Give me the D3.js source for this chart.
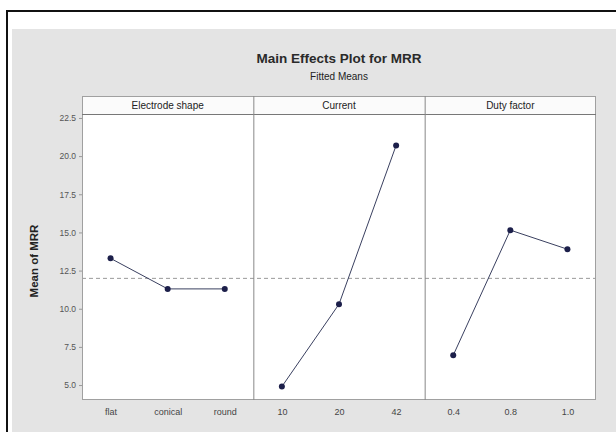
<!DOCTYPE html>
<html>
<head>
<meta charset="utf-8">
<script src="https://cdn.jsdelivr.net/npm/d3@7"></script>
<style>
  html, body { margin: 0; padding: 0; background: #fff; }
  svg { display: block; font-family: "Liberation Sans", Arial, sans-serif; }
</style>
</head>
<body>
<svg id="chart" width="616" height="432"></svg>
<script>
// Faktoren und Stufen (Minitab Main Effects Plot, Fitted Means)
const factors = ["Electrode shape", "Current", "Duty factor"];
const electrodeLevels = ["flat", "conical", "round"];
const electrodeMeans = [13.3, 11.3, 11.3];
const currentLevels = ["10", "20", "42"];
const currentMeans = [4.9, 10.3, 20.7];
const dutyLevels = ["0.4", "0.8", "1.0"];
const dutyMeans = [6.95, 15.15, 13.9];
const grandMean = 11.99;
const yTicks = [5.0, 7.5, 10.0, 12.5, 15.0, 17.5, 20.0, 22.5];

const panels = [
  { name: factors[0], levels: electrodeLevels, means: electrodeMeans },
  { name: factors[1], levels: currentLevels, means: currentMeans },
  { name: factors[2], levels: dutyLevels, means: dutyMeans }
];

const W = 616, H = 432;
const left = 82, right = 596, headTop = 96, headBottom = 114, bottom = 400;
const svg = d3.select("#chart");

// Rahmen + grauer Hintergrund
svg.append("rect").attr("x", 12).attr("y", 29).attr("width", W).attr("height", H)
  .attr("fill", "#e4e4e4");
svg.append("rect").attr("x", 7).attr("y", 11).attr("width", W + 10).attr("height", H + 10)
  .attr("fill", "none").attr("stroke", "#111").attr("stroke-width", 2);

// Titel
svg.append("text").attr("x", (left + right) / 2).attr("y", 63)
  .attr("text-anchor", "middle").attr("font-size", 13.5).attr("font-weight", "bold")
  .attr("fill", "#2a2a2a").text("Main Effects Plot for MRR");
svg.append("text").attr("x", (left + right) / 2).attr("y", 80)
  .attr("text-anchor", "middle").attr("font-size", 10).attr("fill", "#222")
  .text("Fitted Means");

const y = d3.scaleLinear().domain([4.02, 22.76]).range([bottom, headBottom]);
const px = d3.scaleBand().domain(factors).range([left, right]);

// Panel-Hintergründe
svg.append("rect").attr("x", left).attr("y", headTop).attr("width", right - left)
  .attr("height", bottom - headTop).attr("fill", "#fff");
svg.append("rect").attr("x", left).attr("y", headTop).attr("width", right - left)
  .attr("height", headBottom - headTop).attr("fill", "#fbfbfb");

// Y-Achse
const yAxis = svg.append("g").attr("transform", `translate(${left},0)`)
  .call(d3.axisLeft(y).tickValues(yTicks).tickFormat(d3.format(".1f")).tickSize(3).tickPadding(3));
yAxis.select(".domain").remove();
yAxis.selectAll(".tick line").attr("stroke", "#999");
yAxis.selectAll(".tick text").attr("font-size", 8.5).attr("fill", "#555")
  .attr("font-family", "Liberation Sans, Arial, sans-serif");

svg.append("text")
  .attr("transform", `translate(38,${(headBottom + bottom) / 2 + 4}) rotate(-90)`)
  .attr("text-anchor", "middle").attr("font-size", 11.5).attr("font-weight", "bold")
  .attr("fill", "#222").text("Mean of MRR");

// Mittelwert-Linie (gestrichelt)
svg.append("line").attr("x1", left).attr("x2", right)
  .attr("y1", y(grandMean)).attr("y2", y(grandMean))
  .attr("stroke", "#999").attr("stroke-width", 1).attr("stroke-dasharray", "4,3");

panels.forEach(p => {
  const x0 = px(p.name), x1 = x0 + px.bandwidth();
  const x = d3.scalePoint().domain(p.levels).range([x0, x1]).padding(0.5);
  const g = svg.append("g");

  // Kopfzeile
  g.append("text").attr("x", (x0 + x1) / 2).attr("y", headTop + 12.5)
    .attr("text-anchor", "middle").attr("font-size", 10).attr("fill", "#222").text(p.name);

  // X-Achse
  const xa = g.append("g").attr("transform", `translate(0,${bottom})`)
    .call(d3.axisBottom(x).tickSize(0).tickPadding(9));
  xa.select(".domain").remove();
  xa.selectAll(".tick text").attr("font-size", 9).attr("fill", "#444")
    .attr("font-family", "Liberation Sans, Arial, sans-serif");

  const pts = p.levels.map((l, i) => [x(l), y(p.means[i])]);
  g.append("path").attr("d", d3.line()(pts)).attr("fill", "none")
    .attr("stroke", "#3a4060").attr("stroke-width", 1);
  g.selectAll("circle").data(pts).enter().append("circle")
    .attr("cx", d => d[0]).attr("cy", d => d[1]).attr("r", 3)
    .attr("fill", "#1c1f4a");
});

// Panel-Rahmen und Trennlinien
svg.append("rect").attr("x", left + 0.5).attr("y", headTop + 0.5)
  .attr("width", right - left - 1).attr("height", bottom - headTop - 1)
  .attr("fill", "none").attr("stroke", "#a0a0a0");
svg.append("line").attr("x1", left).attr("x2", right)
  .attr("y1", headBottom + 0.5).attr("y2", headBottom + 0.5).attr("stroke", "#777");
factors.slice(1).forEach(f => {
  svg.append("line").attr("x1", px(f) + 0.5).attr("x2", px(f) + 0.5)
    .attr("y1", headTop).attr("y2", bottom).attr("stroke", "#888");
});
</script>
</body>
</html>
